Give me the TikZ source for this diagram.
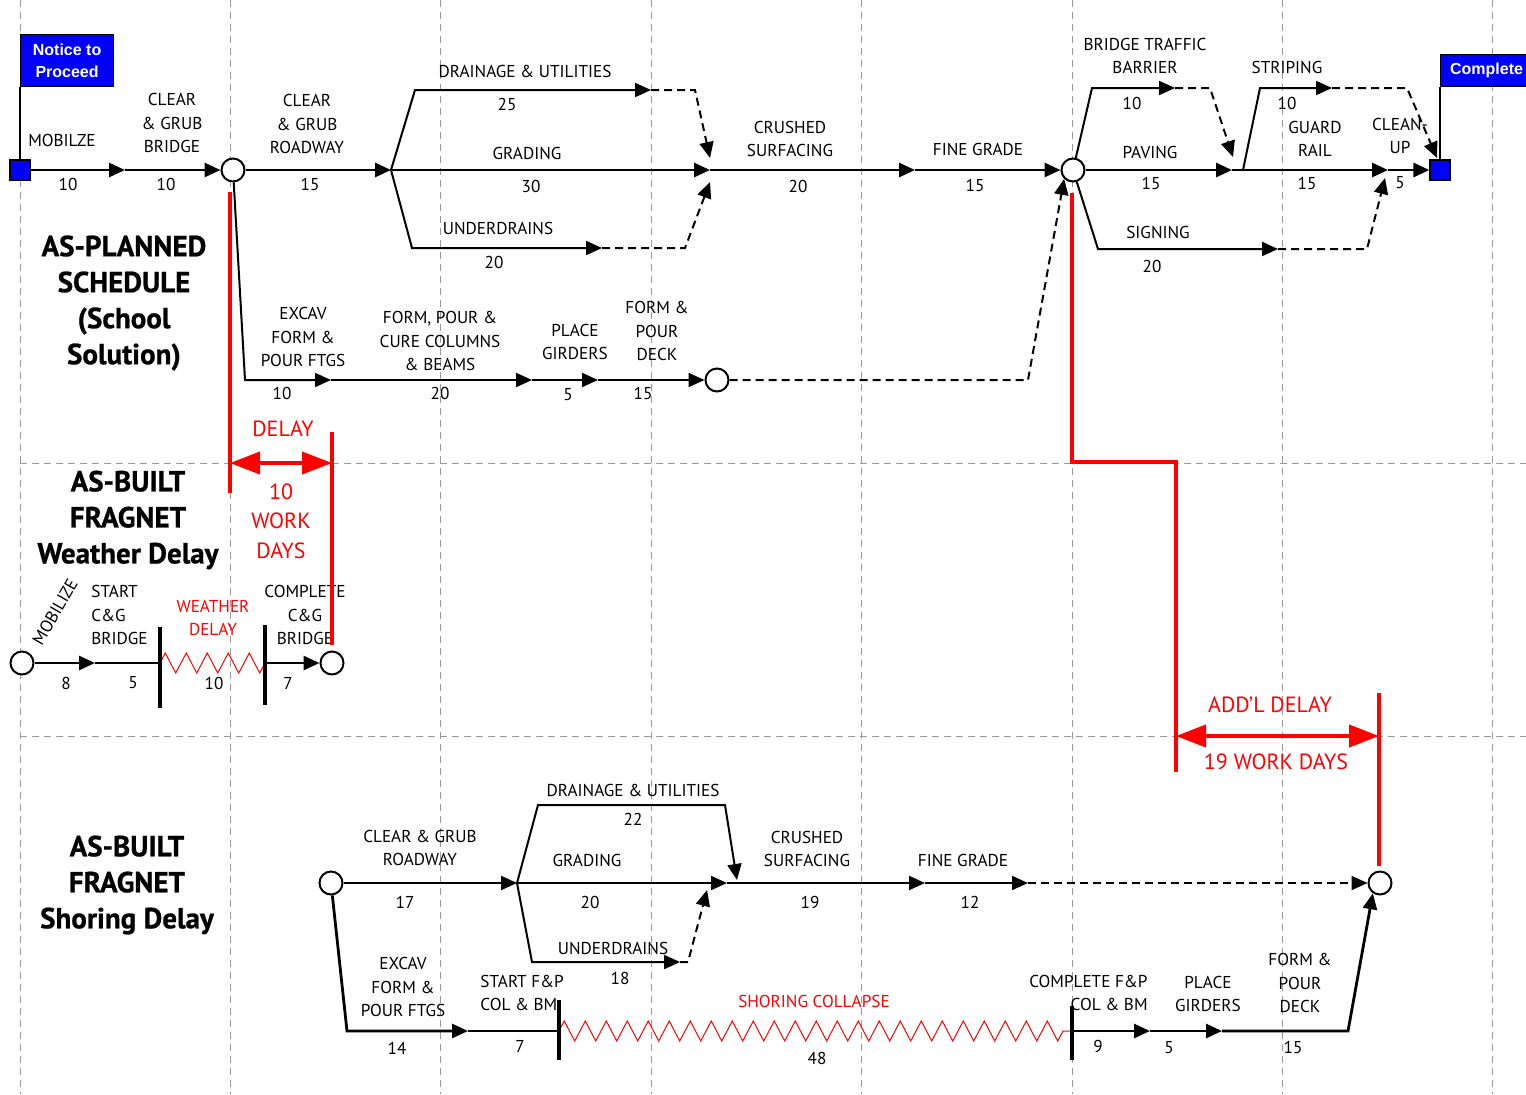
\documentclass[tikz,border=0pt]{standalone}
\usepackage{fontspec}
\setmainfont{PT Sans}
\newfontfamily\flagfont{Liberation Sans}
\newfontfamily\ttlfont{PT Sans Bold}[FakeBold=0.8]
\usetikzlibrary{arrows.meta, decorations.pathmorphing, calc}
\tikzset{
  arr/.style    = {-{Triangle[length=8pt,width=7pt]}},
  crit/.style   = {arr, line width=1.4pt},
  act/.style    = {arr, line width=1pt},
  dummy/.style  = {arr, line width=1pt, dash pattern=on 4pt off 2.5pt},
  gridln/.style = {gray!80, line width=0.5pt, dash pattern=on 3.5pt off 2.5pt},
  evt/.style    = {circle, draw, fill=white, line width=1pt,
                   minimum size=11.5pt, inner sep=0pt},
  mile/.style   = {rectangle, draw, fill=blue, line width=0.6pt,
                   minimum size=10pt, inner sep=0pt},
  flag/.style   = {rectangle, draw, fill=blue, text=white, line width=0.6pt,
                   font=\flagfont\bfseries\fontsize{8}{11}\selectfont,
                   align=center, inner sep=1.5pt},
  lbl/.style    = {font=\fontsize{8.6}{11.8}\selectfont, align=center, inner sep=0pt},
  ttl/.style    = {font=\ttlfont\fontsize{14.5}{18}\selectfont, align=center, inner sep=0pt},
  rlbl/.style   = {lbl, text=red},
  rbig/.style   = {font=\fontsize{11}{14.7}\selectfont, align=center,
                   text=red, inner sep=0pt},
  delay/.style  = {red, line width=2pt},
  dspan/.style  = {red, line width=2pt,
                   {Triangle[length=15pt,width=11pt]}-{Triangle[length=15pt,width=11pt]}},
  wavy/.style   = {red, line width=0.5pt, decorate,
                   decoration={zigzag, segment length=10.5pt, amplitude=5pt}},
  stopbar/.style = {line width=1.6pt},
}

\begin{document}
\begin{tikzpicture}[x=0.5pt, y=-0.5pt]
\useasboundingbox (0,0) rectangle (1526,1094);

% ── Grid ──────────────────────────────────────────────────
\foreach \i in {0,...,7}
  \draw[gridln] ({20+210.4*\i},0) -- ({20+210.4*\i},1094);
\draw[gridln] (20,463) -- (1526,463);
\draw[gridln] (20,736) -- (1526,736);

% ── As-planned events ─────────────────────────────────────
\node[mile] (ntp)  at (20,170)   {};
\coordinate (t1)   at (125,170);
\node[evt]  (t2)   at (233,170)  {};
\coordinate (t3)   at (391,170);
\coordinate (t4)   at (710,170);
\coordinate (t5)   at (915,170);
\node[evt]  (t6)   at (1073,170) {};
\coordinate (t7)   at (1232,170);
\coordinate (t8)   at (1388,170);
\node[mile] (done) at (1440,170) {};

\coordinate (du1) at (415,90);   \coordinate (du2) at (651,90);
\coordinate (du3) at (695,90);   \coordinate (t4n) at (710,158);
\coordinate (ud1) at (412,248);  \coordinate (ud2) at (602,248);
\coordinate (ud3) at (685,248);  \coordinate (t4s) at (710,182);
\coordinate (bb1) at (1092,88);  \coordinate (bb2) at (1175,88);
\coordinate (bb3) at (1210,88);  \coordinate (t7n) at (1233,157);
\coordinate (sp0) at (1243,170); \coordinate (sp1) at (1260,88);
\coordinate (sp2) at (1332,88);  \coordinate (sp3) at (1407,88);
\coordinate (dnn) at (1437,158);
\coordinate (sg1) at (1098,249); \coordinate (sg2) at (1278,249);
\coordinate (sg3) at (1367,249); \coordinate (t8s) at (1385,178);

\coordinate (lb1) at (245,380);  \coordinate (lb2) at (331,380);
\coordinate (lb3) at (532,380);  \coordinate (lb4) at (598,380);
\node[evt]  (deck) at (717,380) {};
\coordinate (lb5) at (1028,380);

% ── Flags ─────────────────────────────────────────────────
\node[flag, anchor=south west, minimum width=46.5pt, minimum height=26pt]
      (ntpflag) at (20,87) {Notice to\\Proceed};
\node[flag, anchor=south west, minimum width=46pt, minimum height=16pt,
      align=left] (cmpflag) at (1440,87) {Complete};
\draw[line width=0.8pt] (ntp.north) -- (ntpflag.south west);
\draw[line width=0.8pt] (done.north) -- (cmpflag.south west);

% ── As-planned arrows ─────────────────────────────────────
\draw[crit] (ntp) -- (t1);
\draw[crit] (t1) -- (t2);
\draw[crit] (t2) -- (t3);
\draw[act] (t3) -- (du1) -- (du2);
\draw[dummy] (du2) -- (du3) -- (t4n);
\draw[crit] (t3) -- (t4);
\draw[act] (t3) -- (ud1) -- (ud2);
\draw[dummy] (ud2) -- (ud3) -- (t4s);
\draw[crit] (t4) -- (t5);
\draw[crit] (t5) -- (t6);
\draw[act] (t6) -- (bb1) -- (bb2);
\draw[dummy] (bb2) -- (bb3) -- (t7n);
\draw[crit] (t6) -- (t7);
\draw[act] (sp0) -- (sp1) -- (sp2);
\draw[dummy] (sp2) -- (sp3) -- (dnn);
\draw[crit] (t7) -- (t8);
\draw[act] (t6) -- (sg1) -- (sg2);
\draw[dummy] (sg2) -- (sg3) -- (t8s);
\draw[crit] (t8) -- (done);

\draw[act] (t2) -- (lb1) -- (lb2);
\draw[act] (lb2) -- (lb3);
\draw[act] (lb3) -- (lb4);
\draw[act] (lb4) -- (deck);
\draw[dummy] (deck) -- (lb5) -- (t6.south west);

% ── As-planned labels ─────────────────────────────────────
\node[lbl] (lMob) at (62,140)  {MOBILZE};
\node[lbl] (dMob) at (68,184)  {10};
\node[lbl] (lCgb) at (172,123) {CLEAR\\\& GRUB\\BRIDGE};
\node[lbl] (dCgb) at (166,184) {10};
\node[lbl] (lCgr) at (307,124) {CLEAR\\\& GRUB\\ROADWAY};
\node[lbl] (dCgr) at (310,184) {15};
\node[lbl] (lDrn) at (525,71)  {DRAINAGE \& UTILITIES};
\node[lbl] (dDrn) at (507,104) {25};
\node[lbl] (lGrd) at (527,153) {GRADING};
\node[lbl] (dGrd) at (531,186) {30};
\node[lbl] (lUdr) at (498,228) {UNDERDRAINS};
\node[lbl] (dUdr) at (494,262) {20};
\node[lbl] (lCrs) at (790,139) {CRUSHED\\SURFACING};
\node[lbl] (dCrs) at (798,186) {20};
\node[lbl] (lFgr) at (978,149) {FINE GRADE};
\node[lbl] (dFgr) at (975,185) {15};
\node[lbl] (lBtb) at (1145,56) {BRIDGE TRAFFIC\\BARRIER};
\node[lbl] (dBtb) at (1132,103) {10};
\node[lbl] (lPav) at (1150,152) {PAVING};
\node[lbl] (dPav) at (1151,183) {15};
\node[lbl] (lSgn) at (1158,232) {SIGNING};
\node[lbl] (dSgn) at (1152,266) {20};
\node[lbl] (lStr) at (1287,67)  {STRIPING};
\node[lbl] (dStr) at (1287,103) {10};
\node[lbl] (lGrl) at (1315,139) {GUARD\\RAIL};
\node[lbl] (dGrl) at (1307,183) {15};
\node[lbl] (lCln) at (1400,136) {CLEAN-\\UP};
\node[lbl] (dCln) at (1400,183) {5};

\node[lbl] (lExc) at (303,337) {EXCAV\\FORM \&\\POUR FTGS};
\node[lbl] (dExc) at (282,393) {10};
\node[lbl] (lCol) at (440,341) {FORM, POUR \&\\CURE COLUMNS\\\& BEAMS};
\node[lbl] (dCol) at (440,393) {20};
\node[lbl] (lGir) at (575,342) {PLACE\\GIRDERS};
\node[lbl] (dGir) at (568,395) {5};
\node[lbl] (lDck) at (657,331) {FORM \&\\POUR\\DECK};
\node[lbl] (dDck) at (643,393) {15};

% ── Titles ────────────────────────────────────────────────
\node[ttl] (ttlPlan) at (124,303) {AS-PLANNED\\SCHEDULE\\(School\\Solution)};
\node[ttl] (ttlWx)   at (128,520) {AS-BUILT\\FRAGNET\\Weather Delay};
\node[ttl] (ttlSh)   at (127,885) {AS-BUILT\\FRAGNET\\Shoring Delay};

% ── Weather delay fragnet ─────────────────────────────────
\node[evt]  (w0) at (22,663)  {};
\coordinate (w1) at (95,663);
\coordinate (w2) at (160,663);
\coordinate (w3) at (265,663);
\node[evt]  (w4) at (332,663) {};

\draw[crit] (w0) -- (w1);
\draw[line width=1.4pt] (w1) -- (w2);
\draw[wavy] (w2) -- (w3);
\draw[crit] (w3) -- (w4);
\draw[stopbar] (w2) ++(0,-36) -- ++(0,81);
\draw[stopbar] (w3) ++(0,-38) -- ++(0,80);

\node[lbl, rotate=60] (lWmob) at (55,612) {MOBILIZE};
\node[lbl] (dWmob) at (66,683)  {8};
\node[lbl, align=left, anchor=west] (lWst) at (91,615) {START\\C\&G\\BRIDGE};
\node[lbl] (dWst)  at (133,683) {5};
\node[rlbl] (lWx)  at (213,618) {WEATHER\\DELAY};
\node[lbl] (dWx)   at (214,683) {10};
\node[lbl] (lWcp)  at (305,615) {COMPLETE\\C\&G\\BRIDGE};
\node[lbl] (dWcp)  at (288,683) {7};

% ── Shoring delay fragnet ─────────────────────────────────
\node[evt]  (b0) at (331,883) {};
\coordinate (b1) at (517,883);
\coordinate (bd1) at (538,805);  \coordinate (bd2) at (725,805);
\coordinate (b2n) at (737,880);
\coordinate (b2) at (727,883);
\coordinate (bu1) at (532,962);  \coordinate (bu2) at (680,962);
\coordinate (bu3) at (688,962);  \coordinate (b2s) at (707,890);
\coordinate (b3) at (925,883);
\coordinate (b4) at (1028,883);
\node[evt]  (b5) at (1380,883) {};
\coordinate (bl1) at (347,1031); \coordinate (bl2) at (468,1031);
\coordinate (bl3) at (559,1031); \coordinate (bl4) at (1072,1031);
\coordinate (bl5) at (1150,1031); \coordinate (bl6) at (1222,1031);
\coordinate (bl7) at (1348,1031);

\draw[act] (b0) -- (b1);
\draw[act] (b1) -- (bd1) -- (bd2) -- (b2n);
\draw[act] (b1) -- (b2);
\draw[act] (b1) -- (bu1) -- (bu2);
\draw[dummy] (bu2) -- (bu3) -- (b2s);
\draw[act] (b2) -- (b3);
\draw[act] (b3) -- (b4);
\draw[dummy] (b4) -- (b5);
\draw[crit] (b0) -- (bl1) -- (bl2);
\draw[line width=1.4pt] (bl2) -- (bl3);
\draw[wavy] (bl3) -- (bl4);
\draw[crit] (bl4) -- (bl5);
\draw[crit] (bl5) -- (bl6);
\draw[crit] (bl6) -- (bl7) -- (b5.235);
\draw[stopbar] (bl3) ++(0,-31) -- ++(0,60);
\draw[stopbar] (bl4) ++(0,-25) -- ++(0,54);

\node[lbl] (lBcg) at (420,848)  {CLEAR \& GRUB\\ROADWAY};
\node[lbl] (dBcg) at (405,902)  {17};
\node[lbl] (lBdr) at (633,790)  {DRAINAGE \& UTILITIES};
\node[lbl] (dBdr) at (633,819)  {22};
\node[lbl] (lBgr) at (587,860)  {GRADING};
\node[lbl] (dBgr) at (590,902)  {20};
\node[lbl] (lBud) at (613,948)  {UNDERDRAINS};
\node[lbl] (dBud) at (620,978)  {18};
\node[lbl] (lBcs) at (807,849)  {CRUSHED\\SURFACING};
\node[lbl] (dBcs) at (810,902)  {19};
\node[lbl] (lBfg) at (963,860)  {FINE GRADE};
\node[lbl] (dBfg) at (970,902)  {12};
\node[lbl] (lBex) at (403,987)  {EXCAV\\FORM \&\\POUR FTGS};
\node[lbl] (dBex) at (397,1048) {14};
\node[lbl, align=left, anchor=west] (lBst) at (480,993) {START F\&P\\COL \& BM};
\node[lbl] (dBst) at (520,1046) {7};
\node[rlbl] (lBsh) at (814,1001) {SHORING COLLAPSE};
\node[lbl] (dBsh) at (817,1058) {48};
\node[lbl, align=right, anchor=east] (lBcp) at (1148,993) {COMPLETE F\&P\\COL \& BM};
\node[lbl] (dBcp) at (1098,1046) {9};
\node[lbl] (lBpg) at (1208,994)  {PLACE\\GIRDERS};
\node[lbl] (dBpg) at (1169,1048) {5};
\node[lbl] (lBdk) at (1300,983)  {FORM \&\\POUR\\DECK};
\node[lbl] (dBdk) at (1293,1047) {15};

% ── Delay markers ─────────────────────────────────────────
\coordinate (rw1) at (230,192);  \coordinate (rw2) at (230,493);
\coordinate (rw3) at (332,432);  \coordinate (rw4) at (332,645);
\coordinate (rwa) at (230,463);  \coordinate (rwb) at (332,463);
\draw[delay] (rw1) -- (rw2);
\draw[delay] (rw3) -- (rw4);
\draw[dspan] (rwa) -- (rwb);
\node[rbig] (lDly) at (283,429) {DELAY};
\node[rbig] (lDly10) at (281,521) {10\\WORK\\DAYS};

\coordinate (rs1) at (1072,193);  \coordinate (rs2) at (1072,462);
\coordinate (rs3) at (1176,462);  \coordinate (rs4) at (1176,772);
\coordinate (rs5) at (1379,693);  \coordinate (rs6) at (1379,866);
\coordinate (rsa) at (1176,736);  \coordinate (rsb) at (1379,736);
\draw[delay] (rs1) -- (rs2) -- (rs3) -- (rs4);
\draw[delay] (rs5) -- (rs6);
\draw[dspan] (rsa) -- (rsb);
\node[rbig] (lAdd) at (1270,705) {ADD'L DELAY};
\node[rbig] (lAdd19) at (1276,762) {19 WORK DAYS};

\end{tikzpicture}
\end{document}
